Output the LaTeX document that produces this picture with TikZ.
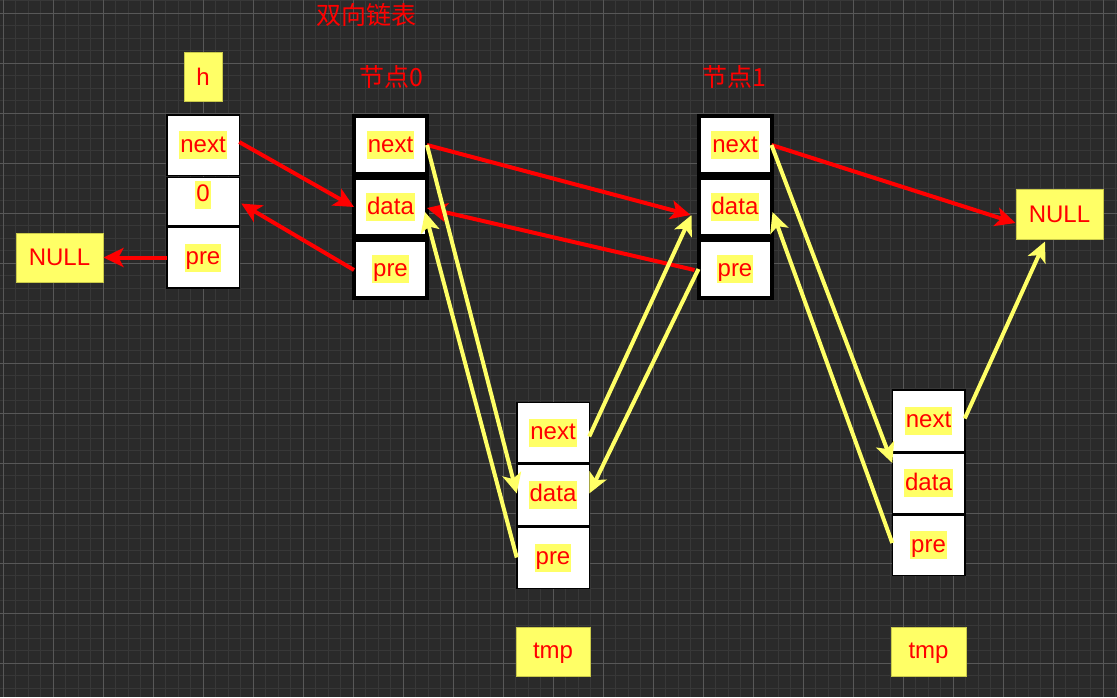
\documentclass[tikz,border=0pt]{standalone}
\usepackage{fontspec}
\setmainfont{Liberation Sans}
\newfontfamily\cjk{Noto Sans CJK SC}
\usetikzlibrary{arrows.meta}
\definecolor{bg}{HTML}{2A2A2A}
\definecolor{gminor}{HTML}{383838}
\definecolor{gmajor}{HTML}{585858}
\definecolor{hl}{HTML}{FFFF66}
\definecolor{hlborder}{HTML}{C9C94A}
\definecolor{txtred}{HTML}{FF0000}
\begin{document}
\begin{tikzpicture}[x=1pt,y=-1pt,
  every node/.style={font=\fontsize{24}{28}\selectfont},
  cell/.style={draw=black, fill=white, line width=1.5pt, minimum width=72.5pt, inner sep=0pt, outer sep=0pt},
  thickcell/.style={draw=black, fill=white, line width=4pt, minimum width=73pt, minimum height=58pt, inner sep=0pt, outer sep=0pt},
  lbl/.style={fill=hl, text=txtred, inner sep=1pt, text height=20pt, text depth=6pt},
  ybox/.style={draw=hlborder, fill=hl, text=txtred, line width=1pt, inner sep=0pt},
  tip/.style={-{Stealth[length=20pt,width=19pt,inset=5pt]}},
  redarrow/.style={draw=txtred, line width=4pt, tip},
  yelarrow/.style={draw=hl, line width=4pt, tip},
  ttl/.style={text=txtred, font=\cjk\fontsize{25}{29}\selectfont, inner sep=0pt}
]
\useasboundingbox (0,0) rectangle (1117,697);
\fill[bg] (0,0) rectangle (1117,697);
% grid
\foreach \k in {0,...,89} { \draw[gminor, line width=1pt] ({3+12.5*\k},0) -- ++(0,697); }
\foreach \k in {-1,...,55} { \draw[gminor, line width=1pt] (0,{13+12.5*\k}) -- ++(1117,0); }
\foreach \k in {0,...,22} { \draw[gmajor, line width=1pt] ({3+50*\k},0) -- ++(0,697); }
\foreach \k in {0,...,13} { \draw[gmajor, line width=1pt] (0,{13+50*\k}) -- ++(1117,0); }

% titles
\node[ttl] (title) at (366,15) {双向链表};
\node[ttl] (t0) at (391,77) {节点0};
\node[ttl] (t1) at (734,77) {节点1};

% yellow boxes
\node[ybox, minimum width=38pt, minimum height=49pt] (h) at (203,76.5) {h};
\node[ybox, minimum width=87pt, minimum height=49pt] (nullL) at (59.5,257.5) {NULL};
\node[ybox, minimum width=87pt, minimum height=50pt] (nullR) at (1059.5,214) {NULL};
\node[ybox, minimum width=74pt, minimum height=49pt, text height=20pt, text depth=6pt] (tmpA) at (553,651.5) {tmp};
\node[ybox, minimum width=75pt, minimum height=49pt, text height=20pt, text depth=6pt] (tmpB) at (928.5,651.5) {tmp};

% head struct
\node[cell, minimum height=60.5pt, label={[lbl]center:next}] (hnext) at (203,145) {};
\node[cell, minimum height=48.5pt, label={[lbl,yshift=7pt]center:0}] (hzero) at (203,201.5) {};
\node[cell, minimum height=60.5pt, label={[lbl]center:pre}] (hpre) at (203,257.5) {};

% node 0
\node[thickcell, label={[lbl]center:next}] (n0next) at (390.5,145) {};
\node[thickcell, label={[lbl]center:data}] (n0data) at (390.5,207) {};
\node[thickcell, label={[lbl]center:pre}] (n0pre) at (390.5,269) {};

% node 1
\node[thickcell, label={[lbl]center:next}] (n1next) at (735,145) {};
\node[thickcell, label={[lbl]center:data}] (n1data) at (735,207) {};
\node[thickcell, label={[lbl]center:pre}] (n1pre) at (735,269) {};

% tmp struct A
\node[cell, minimum height=60pt, label={[lbl]center:next}] (aNext) at (553,432.5) {};
\node[cell, minimum height=61.5pt, label={[lbl]center:data}] (aData) at (553,494.5) {};
\node[cell, minimum height=61.5pt, label={[lbl]center:pre}] (aPre) at (553,557.5) {};

% tmp struct B
\node[cell, minimum height=61.5pt, label={[lbl]center:next}] (bNext) at (928.5,420.5) {};
\node[cell, minimum height=60.5pt, label={[lbl]center:data}] (bData) at (928.5,483) {};
\node[cell, minimum height=60.5pt, label={[lbl]center:pre}] (bPre) at (928.5,545) {};

% red arrows
\draw[redarrow] ([yshift=3pt]hnext.east) -- (n0data.west);
\draw[redarrow] ([yshift=-1pt]n0pre.west) -- ([xshift=2pt,yshift=-2pt]hzero.east);
\draw[redarrow] (hpre.west) -- (nullL.east);
\draw[redarrow] (n0next.east) -- ([xshift=-8pt,yshift=-8pt]n1data.west);
\draw[redarrow] ([xshift=-4pt,yshift=-1pt]n1pre.west) -- ([yshift=-1pt]n0data.east);
\draw[redarrow] (n1next.east) -- ([yshift=-9pt]nullR.west);

% yellow arrows
\draw[yelarrow] (n0next.east) -- ([yshift=1pt]aData.west);
\draw[yelarrow] (aPre.west) -- ([xshift=-2pt,yshift=-5pt]n0data.east);
\draw[yelarrow] ([yshift=-4pt]aNext.east) -- ([xshift=-7pt,yshift=-8pt]n1data.west);
\draw[yelarrow] (n1pre.west) -- ([yshift=1pt]aData.east);
\draw[yelarrow] (n1next.east) -- ([yshift=20pt]bData.west);
\draw[yelarrow] ([yshift=2pt]bPre.west) -- ([xshift=1pt,yshift=-5pt]n1data.east);
\draw[yelarrow] ([yshift=2pt]bNext.east) -- ([xshift=-14.5pt,yshift=-2pt]nullR.south);
\end{tikzpicture}
\end{document}
